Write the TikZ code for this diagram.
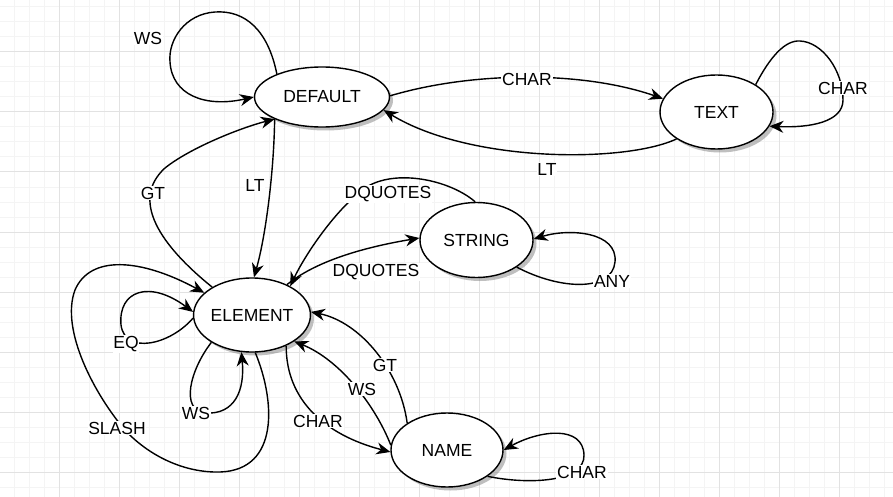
\documentclass[tikz,border=0pt]{standalone}
\usepackage{fontspec}
\setmainfont{Liberation Sans}
\usetikzlibrary{shapes.geometric,arrows.meta,shadows}
\definecolor{minorgrid}{HTML}{F4F4F4}
\definecolor{majorgrid}{HTML}{E2E2E2}
\begin{document}
\begin{tikzpicture}[x=1pt,y=-1pt,
  state/.style={ellipse, draw, line width=1.4pt, fill=white, inner sep=0pt,
    font=\fontsize{17.5}{20}\selectfont,
    drop shadow={shadow xshift=3.5pt, shadow yshift=-3.5pt, fill=black!50}},
  lbl/.style={fill=white, inner sep=0.8pt, font=\fontsize{17.5}{20}\selectfont},
  conn/.style={line width=1.4pt, -{Stealth[length=14pt,width=12pt,inset=4.5pt]}},
  minorline/.style={draw=minorgrid, line width=1pt},
  majorline/.style={draw=majorgrid, line width=1pt}
]
\useasboundingbox (0,0) rectangle (893,497);
\fill[white] (0,0) rectangle (893,497);
\foreach \x in {14.5,29.5,...,893} \draw[minorline] (\x,0) -- (\x,497);
\foreach \y in {7,22,...,497} \draw[minorline] (0,\y) -- (893,\y);
\foreach \x in {59.5,119.5,...,893} \draw[majorline] (\x,0) -- (\x,497);
\foreach \y in {52,112,...,497} \draw[majorline] (0,\y) -- (893,\y);

% states
\node[state, minimum width=135pt, minimum height=60pt] (DEFAULT) at (322,97) {DEFAULT};
\node[state, minimum width=113pt, minimum height=74pt] (TEXT) at (716.5,112) {TEXT};
\node[state, minimum width=113pt, minimum height=75pt] (STRING) at (476.5,240) {STRING};
\node[state, minimum width=112pt, minimum height=74pt] (ELEMENT) at (252,315) {ELEMENT};
\node[state, minimum width=112pt, minimum height=74pt] (NAME) at (447,450) {NAME};

% edges
\draw[conn] (DEFAULT.153) .. controls (268,30) and (245,10) .. (215,12)
  .. controls (185,14) and (168,40) .. (170,62)
  .. controls (172,95) and (205,108) .. (DEFAULT.180);
\draw[conn] (DEFAULT.1) .. controls (470,72) and (580,70) .. (TEXT.166);
\draw[conn] (TEXT.214) .. controls (625,163) and (470,163) .. (DEFAULT.-12);
\draw[conn] (TEXT.35) .. controls (770,57) and (785,40) .. (800,41)
  .. controls (822,42) and (843,70) .. (843,100)
  .. controls (843,122) and (810,128) .. (TEXT.-15);
\draw[conn] (DEFAULT.205) .. controls (274,170) and (266,235) .. (ELEMENT.87);
\draw[conn] (ELEMENT.145) .. controls (160,245) and (130,200) .. (165,168)
  .. controls (190,148) and (240,128) .. (DEFAULT.205);
\draw[conn] (STRING.92) .. controls (450,180) and (395,168) .. (365,188)
  .. controls (335,210) and (305,255) .. (ELEMENT.37);
\draw[conn] (ELEMENT.41) .. controls (315,262) and (360,248) .. (STRING.178);
\draw[conn] (STRING.326) .. controls (560,290) and (612,292) .. (615,262)
  .. controls (618,232) and (570,228) .. (STRING.1);
\draw[conn] (ELEMENT.183) .. controls (170,345) and (125,355) .. (121,325)
  .. controls (118,290) and (150,280) .. (ELEMENT.177);
\draw[conn] (ELEMENT.275) .. controls (275,400) and (280,470) .. (220,472)
  .. controls (180,473) and (145,452) .. (125,430)
  .. controls (95,395) and (60,330) .. (75,290)
  .. controls (90,255) and (140,258) .. (ELEMENT.155);
\draw[conn] (ELEMENT.214) .. controls (190,370) and (180,410) .. (205,413)
  .. controls (235,415) and (245,390) .. (ELEMENT.254);
\draw[conn] (ELEMENT.318) .. controls (286,400) and (325,435) .. (NAME.182);
\draw[conn] (NAME.175) .. controls (375,405) and (340,360) .. (ELEMENT.328);
\draw[conn] (NAME.146) .. controls (400,370) and (360,322) .. (ELEMENT.3);
\draw[conn] (NAME.327) .. controls (530,485) and (585,482) .. (584,455)
  .. controls (583,425) and (540,430) .. (NAME.0);

% labels
\node[lbl] (l1) at (148,38) {WS};
\node[lbl] (l2) at (527,79) {CHAR};
\node[lbl] (l3) at (547,169) {LT};
\node[lbl] (l4) at (843,88) {CHAR};
\node[lbl] (l5) at (255,185) {LT};
\node[lbl] (l6) at (153,193) {GT};
\node[lbl] (l7) at (388,194) {DQUOTES};
\node[lbl] (l8) at (376,272) {DQUOTES};
\node[lbl] (l9) at (612,281) {ANY};
\node[lbl] (l10) at (126,344) {EQ};
\node[lbl] (l11) at (117,428) {SLASH};
\node[lbl] (l12) at (196,413) {WS};
\node[lbl] (l13) at (318,421) {CHAR};
\node[lbl] (l14) at (362,389) {WS};
\node[lbl] (l15) at (385,365) {GT};
\node[lbl] (l16) at (582,472) {CHAR};
\end{tikzpicture}
\end{document}
